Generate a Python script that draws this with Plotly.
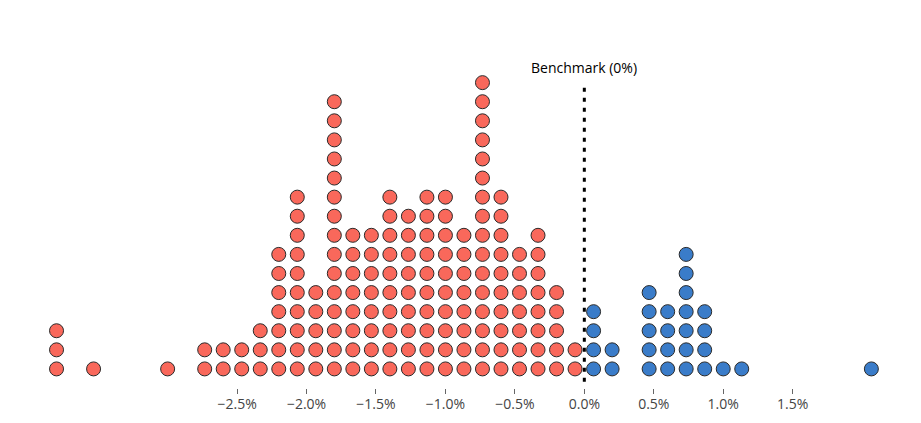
import plotly.graph_objects as go

# Bin centres (in %) and number of observations in each bin
bin_centers = [-3.8, -3.5333, -3.0, -2.7333, -2.6, -2.4667, -2.3333, -2.2, -2.0667,
               -1.9333, -1.8, -1.6667, -1.5333, -1.4, -1.2667, -1.1333, -1.0, -0.8667,
               -0.7333, -0.6, -0.4667, -0.3333, -0.2, -0.0667,
               0.0667, 0.2, 0.4667, 0.6, 0.7333, 0.8667, 1.0, 1.1333, 2.0667]
counts = [3, 1, 1, 2, 2, 2, 3, 7, 10,
          5, 15, 8, 8, 10, 9, 10, 10, 8,
          16, 10, 7, 8, 5, 2,
          4, 2, 5, 4, 7, 4, 1, 1, 1]

tick_vals = [-2.5, -2.0, -1.5, -1.0, -0.5, 0.0, 0.5, 1.0, 1.5]
x_range = [-3.919, 2.136]
benchmark = 0.0
benchmark_label = "Benchmark (0%)"

neg_x, neg_y, pos_x, pos_y = [], [], [], []
for c, n in zip(bin_centers, counts):
    for i in range(n):
        if c < benchmark:
            neg_x.append(c / 100); neg_y.append(i)
        else:
            pos_x.append(c / 100); pos_y.append(i)

fig = go.Figure()
fig.add_trace(go.Scatter(x=neg_x, y=neg_y, mode="markers",
                         marker=dict(size=14, color="#F9685B",
                                     line=dict(color="#2a2a2a", width=1)),
                         hoverinfo="x", showlegend=False))
fig.add_trace(go.Scatter(x=pos_x, y=pos_y, mode="markers",
                         marker=dict(size=14, color="#3A7CC9",
                                     line=dict(color="#2a2a2a", width=1)),
                         hoverinfo="x", showlegend=False))

top = max(counts) - 1
fig.add_shape(type="line", x0=benchmark, x1=benchmark, y0=-0.67, y1=top,
              xref="x", yref="y", line=dict(color="black", width=3, dash="4px,6px"),
              layer="below")
fig.add_annotation(x=benchmark, y=top, text=benchmark_label, showarrow=False,
                   yanchor="bottom", yshift=4, font=dict(size=14, color="black"))

fig.update_layout(
    width=921, height=423,
    margin=dict(l=40, r=40, t=54, b=35),
    plot_bgcolor="white", paper_bgcolor="white",
    font=dict(family="Open Sans", size=14, color="#444"),
    xaxis=dict(range=[v / 100 for v in x_range], tickvals=[v / 100 for v in tick_vals],
               tickformat=".1%", showgrid=False, zeroline=False, showline=False,
               ticks="outside", ticklen=5, tickcolor="#666", ticklabelstandoff=-2,
               automargin=False),
    yaxis=dict(range=[-1, 16.5], visible=False, showgrid=False, zeroline=False,
               automargin=False),
)

fig.write_html("out.html")
